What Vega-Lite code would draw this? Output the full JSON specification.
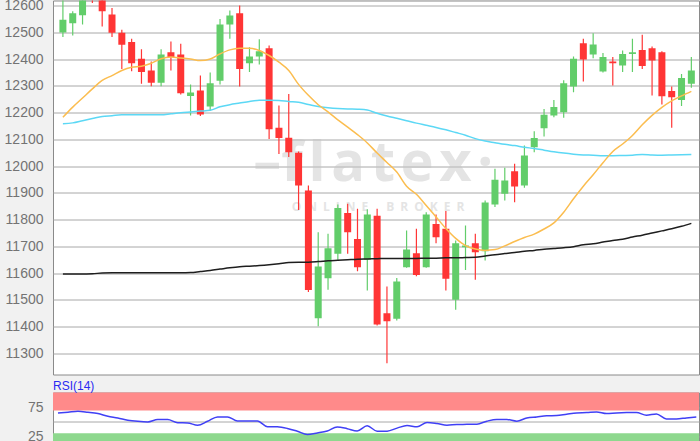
{
  "$schema": "https://vega.github.io/schema/vega-lite/v6.json",
  "padding": {"top": -2.5, "bottom": 0, "left": 0, "right": 0},
  "background": "#f1f1f1",
  "spacing": 3,
  "resolve": {"scale": {"x": "independent", "y": "independent"}},
  "config": {
    "view": {"fill": "#ffffff", "stroke": "#8a8a8a", "strokeWidth": 1},
    "axis": {"labelFont": "Liberation Sans", "labelFontSize": 14, "labelColor": "#737373", "ticks": false, "domain": false, "labelPadding": 10, "minExtent": 52, "maxExtent": 52, "gridColor": "#a8a8a8", "gridWidth": 1, "format": "d"}
  },
  "datasets": {
    "ohlc": [
      {"i":0,"open":12500,"high":12625,"low":12483,"close":12548,"ma20":12183,"ma50":12159,"ma200":11597,"rsi":65.5},
      {"i":1,"open":12535,"high":12580,"low":12489,"close":12572,"ma20":12221,"ma50":12162,"ma200":11597,"rsi":67},
      {"i":2,"open":12565,"high":12650,"low":12530,"close":12625,"ma20":12255,"ma50":12170,"ma200":11597,"rsi":68.8},
      {"i":3,"open":12690,"high":12700,"low":12610,"close":12625,"ma20":12289,"ma50":12178,"ma200":11598,"rsi":67},
      {"i":4,"open":12650,"high":12670,"low":12523,"close":12580,"ma20":12321,"ma50":12186,"ma200":11600,"rsi":64.6},
      {"i":5,"open":12567,"high":12592,"low":12483,"close":12499,"ma20":12339,"ma50":12189,"ma200":11601,"rsi":60},
      {"i":6,"open":12499,"high":12510,"low":12364,"close":12454,"ma20":12358,"ma50":12192,"ma200":11601,"rsi":57},
      {"i":7,"open":12465,"high":12477,"low":12355,"close":12385,"ma20":12370,"ma50":12192,"ma200":11601,"rsi":53},
      {"i":8,"open":12402,"high":12437,"low":12308,"close":12352,"ma20":12374,"ma50":12192,"ma200":11601,"rsi":51},
      {"i":9,"open":12358,"high":12392,"low":12299,"close":12312,"ma20":12385,"ma50":12192,"ma200":11601,"rsi":50},
      {"i":10,"open":12312,"high":12437,"low":12299,"close":12418,"ma20":12402,"ma50":12192,"ma200":11601,"rsi":54},
      {"i":11,"open":12426,"high":12466,"low":12358,"close":12408,"ma20":12408,"ma50":12196,"ma200":11601,"rsi":54},
      {"i":12,"open":12418,"high":12458,"low":12268,"close":12273,"ma20":12405,"ma50":12200,"ma200":11601,"rsi":48.5},
      {"i":13,"open":12263,"high":12306,"low":12190,"close":12276,"ma20":12401,"ma50":12203,"ma200":11602,"rsi":48.2},
      {"i":14,"open":12283,"high":12339,"low":12188,"close":12193,"ma20":12395,"ma50":12206,"ma200":11606,"rsi":44},
      {"i":15,"open":12223,"high":12350,"low":12206,"close":12310,"ma20":12401,"ma50":12209,"ma200":11610,"rsi":51},
      {"i":16,"open":12320,"high":12551,"low":12306,"close":12530,"ma20":12420,"ma50":12222,"ma200":11615,"rsi":58.8},
      {"i":17,"open":12530,"high":12582,"low":12477,"close":12564,"ma20":12435,"ma50":12230,"ma200":11620,"rsi":58.8},
      {"i":18,"open":12572,"high":12601,"low":12298,"close":12364,"ma20":12441,"ma50":12236,"ma200":11624,"rsi":51.5},
      {"i":19,"open":12385,"high":12445,"low":12352,"close":12410,"ma20":12441,"ma50":12242,"ma200":11626,"rsi":51.5},
      {"i":20,"open":12410,"high":12475,"low":12380,"close":12430,"ma20":12433,"ma50":12247,"ma200":11628,"rsi":51.5},
      {"i":21,"open":12441,"high":12451,"low":12102,"close":12138,"ma20":12414,"ma50":12247,"ma200":11631,"rsi":41.5},
      {"i":22,"open":12144,"high":12227,"low":12046,"close":12105,"ma20":12389,"ma50":12246,"ma200":11635,"rsi":41.2},
      {"i":23,"open":12106,"high":12270,"low":12034,"close":12052,"ma20":12358,"ma50":12242,"ma200":11640,"rsi":38.4},
      {"i":24,"open":12050,"high":12055,"low":11836,"close":11928,"ma20":12306,"ma50":12239,"ma200":11641,"rsi":33.5},
      {"i":25,"open":11909,"high":11928,"low":11529,"close":11537,"ma20":12265,"ma50":12231,"ma200":11641,"rsi":27.8},
      {"i":26,"open":11431,"high":11753,"low":11401,"close":11625,"ma20":12230,"ma50":12223,"ma200":11643,"rsi":30.5},
      {"i":27,"open":11581,"high":11747,"low":11538,"close":11693,"ma20":12203,"ma50":12219,"ma200":11646,"rsi":34},
      {"i":28,"open":11672,"high":11857,"low":11650,"close":11844,"ma20":12173,"ma50":12216,"ma200":11648,"rsi":41},
      {"i":29,"open":11825,"high":11859,"low":11672,"close":11753,"ma20":12146,"ma50":12214,"ma200":11650,"rsi":38},
      {"i":30,"open":11728,"high":11841,"low":11607,"close":11622,"ma20":12118,"ma50":12213,"ma200":11652,"rsi":34},
      {"i":31,"open":11650,"high":11839,"low":11535,"close":11819,"ma20":12087,"ma50":12210,"ma200":11653,"rsi":43},
      {"i":32,"open":11815,"high":11841,"low":11404,"close":11408,"ma20":12049,"ma50":12198,"ma200":11654,"rsi":33.6},
      {"i":33,"open":11450,"high":11550,"low":11263,"close":11420,"ma20":12014,"ma50":12188,"ma200":11655,"rsi":33.6},
      {"i":34,"open":11429,"high":11582,"low":11423,"close":11569,"ma20":11978,"ma50":12179,"ma200":11655,"rsi":39},
      {"i":35,"open":11622,"high":11759,"low":11620,"close":11688,"ma20":11925,"ma50":12170,"ma200":11655,"rsi":43.5},
      {"i":36,"open":11674,"high":11766,"low":11588,"close":11593,"ma20":11895,"ma50":12161,"ma200":11655,"rsi":41.2},
      {"i":37,"open":11622,"high":11828,"low":11620,"close":11819,"ma20":11853,"ma50":12153,"ma200":11656,"rsi":48.8},
      {"i":38,"open":11784,"high":11819,"low":11712,"close":11734,"ma20":11810,"ma50":12145,"ma200":11656,"rsi":47},
      {"i":39,"open":11766,"high":11832,"low":11535,"close":11579,"ma20":11767,"ma50":12136,"ma200":11657,"rsi":44.2},
      {"i":40,"open":11500,"high":11722,"low":11463,"close":11712,"ma20":11730,"ma50":12126,"ma200":11657,"rsi":45.4},
      {"i":41,"open":11697,"high":11778,"low":11612,"close":11703,"ma20":11703,"ma50":12116,"ma200":11658,"rsi":45.6},
      {"i":42,"open":11712,"high":11747,"low":11575,"close":11678,"ma20":11690,"ma50":12103,"ma200":11659,"rsi":45.9},
      {"i":43,"open":11682,"high":11872,"low":11647,"close":11864,"ma20":11685,"ma50":12094,"ma200":11664,"rsi":51.2},
      {"i":44,"open":11857,"high":11990,"low":11847,"close":11949,"ma20":11688,"ma50":12088,"ma200":11669,"rsi":54.2},
      {"i":45,"open":11897,"high":11994,"low":11872,"close":11946,"ma20":11702,"ma50":12082,"ma200":11673,"rsi":54.2},
      {"i":46,"open":11981,"high":12009,"low":11865,"close":11924,"ma20":11718,"ma50":12077,"ma200":11677,"rsi":51.2},
      {"i":47,"open":11928,"high":12077,"low":11919,"close":12040,"ma20":11733,"ma50":12071,"ma200":11682,"rsi":57},
      {"i":48,"open":12071,"high":12131,"low":12052,"close":12105,"ma20":11746,"ma50":12066,"ma200":11685,"rsi":58.8},
      {"i":49,"open":12142,"high":12214,"low":12111,"close":12192,"ma20":11765,"ma50":12060,"ma200":11689,"rsi":60.6},
      {"i":50,"open":12190,"high":12248,"low":12183,"close":12221,"ma20":11788,"ma50":12054,"ma200":11692,"rsi":61.2},
      {"i":51,"open":12202,"high":12321,"low":12181,"close":12310,"ma20":11828,"ma50":12049,"ma200":11695,"rsi":63.6},
      {"i":52,"open":12298,"high":12410,"low":12277,"close":12402,"ma20":11878,"ma50":12045,"ma200":11699,"rsi":65.8},
      {"i":53,"open":12460,"high":12477,"low":12317,"close":12399,"ma20":11925,"ma50":12042,"ma200":11706,"rsi":66.4},
      {"i":54,"open":12418,"high":12497,"low":12404,"close":12455,"ma20":11968,"ma50":12041,"ma200":11710,"rsi":67.6},
      {"i":55,"open":12354,"high":12423,"low":12350,"close":12408,"ma20":12013,"ma50":12039,"ma200":11716,"rsi":64.6},
      {"i":56,"open":12392,"high":12408,"low":12302,"close":12385,"ma20":12055,"ma50":12039,"ma200":11722,"rsi":65.8},
      {"i":57,"open":12377,"high":12433,"low":12352,"close":12420,"ma20":12083,"ma50":12040,"ma200":11727,"rsi":66.4},
      {"i":58,"open":12420,"high":12477,"low":12352,"close":12426,"ma20":12115,"ma50":12041,"ma200":11735,"rsi":66.4},
      {"i":59,"open":12435,"high":12492,"low":12364,"close":12375,"ma20":12155,"ma50":12044,"ma200":11742,"rsi":61.8},
      {"i":60,"open":12441,"high":12448,"low":12264,"close":12395,"ma20":12190,"ma50":12042,"ma200":11750,"rsi":64},
      {"i":61,"open":12426,"high":12430,"low":12231,"close":12262,"ma20":12220,"ma50":12041,"ma200":11758,"rsi":55.1},
      {"i":62,"open":12281,"high":12298,"low":12144,"close":12258,"ma20":12244,"ma50":12042,"ma200":11766,"rsi":55.1},
      {"i":63,"open":12248,"high":12345,"low":12225,"close":12330,"ma20":12263,"ma50":12043,"ma200":11775,"rsi":57},
      {"i":64,"open":12308,"high":12408,"low":12293,"close":12358,"ma20":12280,"ma50":12044,"ma200":11786,"rsi":58.8}
    ],
    "logo": [{"brand": "\u2013f\u200al\u200aa\u200at\u200ae\u200ax\u200a\u00b7", "tag": "O\u2002N\u2002L\u2002I\u2002N\u2002E\u2003\u2002B\u2002R\u2002O\u2002K\u2002E\u2002R"}]
  },
  "vconcat": [
    {
      "width": 646,
      "height": 374,
      "layer": [
        {
          "data": {"name": "logo"},
          "mark": {"type": "text", "fontSize": 56, "font": "Open Sans", "fontWeight": "bold", "color": "#c4c4c4", "opacity": 0.45, "baseline": "alphabetic", "align": "center"},
          "encoding": {
            "text": {"field": "brand"},
            "x": {"datum": 31.6, "type": "quantitative", "scale": {"domain": [-0.5, 64.27], "nice": false, "zero": false}, "axis": null},
            "y": {"datum": 11946, "type": "quantitative", "scale": {"domain": [11220.7, 12619.8], "nice": false, "zero": false}, "axis": {"title": null, "values": [11300, 11400, 11500, 11600, 11700, 11800, 11900, 12000, 12100, 12200, 12300, 12400, 12500, 12600], "grid": true}}
          }
        },
        {
          "data": {"name": "logo"},
          "mark": {"type": "text", "fontSize": 12, "font": "Open Sans", "fontWeight": "bold", "color": "#c4c4c4", "opacity": 0.45, "baseline": "middle", "align": "center"},
          "encoding": {
            "text": {"field": "tag"},
            "x": {"datum": 32.1, "type": "quantitative", "axis": null},
            "y": {"datum": 11849, "type": "quantitative", "axis": {"title": null, "values": [11300, 11400, 11500, 11600, 11700, 11800, 11900, 12000, 12100, 12200, 12300, 12400, 12500, 12600], "grid": true}}
          }
        },
        {
          "data": {"name": "ohlc"},
          "mark": {"type": "rule", "strokeWidth": 1.2, "clip": true},
          "encoding": {
            "x": {"field": "i", "type": "quantitative", "axis": null},
            "y": {"field": "low", "type": "quantitative", "axis": {"title": null, "values": [11300, 11400, 11500, 11600, 11700, 11800, 11900, 12000, 12100, 12200, 12300, 12400, 12500, 12600], "grid": true}},
            "y2": {"field": "high"},
            "color": {"condition": {"test": "datum.close >= datum.open", "value": "#62cd6a"}, "value": "#ff3535"}
          }
        },
        {
          "data": {"name": "ohlc"},
          "mark": {"type": "bar", "size": 7, "clip": true},
          "encoding": {
            "x": {"field": "i", "type": "quantitative", "axis": null},
            "y": {"field": "open", "type": "quantitative", "axis": {"title": null, "values": [11300, 11400, 11500, 11600, 11700, 11800, 11900, 12000, 12100, 12200, 12300, 12400, 12500, 12600], "grid": true}},
            "y2": {"field": "close"},
            "color": {"condition": {"test": "datum.close >= datum.open", "value": "#62cd6a"}, "value": "#ff3535"}
          }
        },
        {
          "data": {"name": "ohlc"},
          "mark": {"type": "line", "color": "#1e1e1e", "strokeWidth": 1.5, "interpolate": "monotone", "clip": true},
          "encoding": {
            "x": {"field": "i", "type": "quantitative", "axis": null},
            "y": {"field": "ma200", "type": "quantitative", "axis": {"title": null, "values": [11300, 11400, 11500, 11600, 11700, 11800, 11900, 12000, 12100, 12200, 12300, 12400, 12500, 12600], "grid": true}}
          }
        },
        {
          "data": {"name": "ohlc"},
          "mark": {"type": "line", "color": "#5cd8f5", "strokeWidth": 1.5, "interpolate": "monotone", "clip": true},
          "encoding": {
            "x": {"field": "i", "type": "quantitative", "axis": null},
            "y": {"field": "ma50", "type": "quantitative", "axis": {"title": null, "values": [11300, 11400, 11500, 11600, 11700, 11800, 11900, 12000, 12100, 12200, 12300, 12400, 12500, 12600], "grid": true}}
          }
        },
        {
          "data": {"name": "ohlc"},
          "mark": {"type": "line", "color": "#fbbd4f", "strokeWidth": 1.5, "interpolate": "monotone", "clip": true},
          "encoding": {
            "x": {"field": "i", "type": "quantitative", "axis": null},
            "y": {"field": "ma20", "type": "quantitative", "axis": {"title": null, "values": [11300, 11400, 11500, 11600, 11700, 11800, 11900, 12000, 12100, 12200, 12300, 12400, 12500, 12600], "grid": true}}
          }
        }
      ]
    },
    {
      "width": 646,
      "height": 60,
      "title": {"text": "RSI(14)", "anchor": "start", "frame": "group", "fontSize": 12, "fontWeight": "normal", "font": "Liberation Sans", "color": "#2b2bf2", "offset": 0},
      "layer": [
        {
          "data": {"values": [{"zone": "overbought"}]},
          "mark": {"type": "rect", "color": "#ff8a8a", "clip": true},
          "encoding": {
            "x": {"datum": -0.5, "type": "quantitative", "scale": {"domain": [-0.5, 64.27], "nice": false, "zero": false}, "axis": null},
            "x2": {"datum": 64.27},
            "y": {"datum": 70, "type": "quantitative", "scale": {"domain": [-4, 101.8], "nice": false, "zero": false}, "axis": {"title": null, "values": [25, 50, 75], "labelExpr": "datum.value == 50 ? '' : datum.label", "grid": true}},
            "y2": {"datum": 110}
          }
        },
        {
          "data": {"values": [{"zone": "oversold"}]},
          "mark": {"type": "rect", "color": "#8ed88e", "clip": true},
          "encoding": {
            "x": {"datum": -0.5, "type": "quantitative", "axis": null},
            "x2": {"datum": 64.27},
            "y": {"datum": -10, "type": "quantitative", "axis": {"title": null, "values": [25, 50, 75], "labelExpr": "datum.value == 50 ? '' : datum.label", "grid": true}},
            "y2": {"datum": 30}
          }
        },
        {
          "data": {"name": "ohlc"},
          "mark": {"type": "line", "color": "#4040f5", "strokeWidth": 1.5, "interpolate": "monotone", "clip": true},
          "encoding": {
            "x": {"field": "i", "type": "quantitative", "axis": null},
            "y": {"field": "rsi", "type": "quantitative", "axis": {"title": null, "values": [25, 50, 75], "labelExpr": "datum.value == 50 ? '' : datum.label", "grid": true}}
          }
        }
      ]
    }
  ]
}
